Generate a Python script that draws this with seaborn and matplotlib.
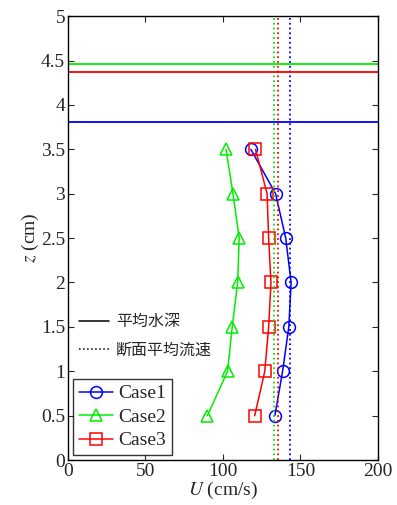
import numpy as np
import pandas as pd
import matplotlib
matplotlib.use('Agg')
import matplotlib.pyplot as plt
from matplotlib.lines import Line2D
import seaborn as sns

# 測定高さ (cm)
z = [0.5, 1.0, 1.5, 2.0, 2.5, 3.0, 3.5]
# 流速 (cm/s)
u_case1 = [133.5, 138.5, 142.5, 144, 140.5, 134, 118]
u_case2 = [90, 103, 106, 109.5, 110.5, 106.5, 102]
u_case3 = [120.5, 127, 129.5, 131, 129.5, 128.5, 121]
cases = ['Case1', 'Case2', 'Case3']
colors = ['#0000ff', '#00ee00', '#ff0000']
markers = ['o', '^', 's']
# 平均水深 (cm) / 断面平均流速 (cm/s)
mean_depth = [3.81, 4.46, 4.37]
mean_velocity = [143, 133, 135.7]

sns.set_style('ticks')
plt.rcParams['font.family'] = ['Liberation Serif', 'Noto Sans CJK JP']
plt.rcParams['mathtext.fontset'] = 'stix'
plt.rcParams['xtick.direction'] = 'in'
plt.rcParams['ytick.direction'] = 'in'

fig = plt.figure(figsize=(3.97, 5.05), dpi=100)
ax = fig.add_axes([0.171, 0.089, 0.781, 0.879])

for name, u, c, m in zip(cases, [u_case1, u_case2, u_case3], colors, markers):
    df = pd.DataFrame({'U': u, 'z': z})
    sns.lineplot(data=df, x='U', y='z', ax=ax, sort=False, estimator=None,
                 color=c, marker=m, markersize=9 if m == '^' else 8.5,
                 markerfacecolor='none', markeredgecolor=c,
                 markeredgewidth=1.1, linewidth=1.1, label=name)

for d, v, c in zip(mean_depth, mean_velocity, colors):
    ax.axhline(d, color=c, linewidth=1.3)
    ax.axvline(v, color=c, linewidth=1.3, linestyle=':')

ax.set_xlim(0, 200)
ax.set_ylim(0, 5)
ax.set_xticks([0, 50, 100, 150, 200])
ax.set_yticks(np.arange(0, 5.01, 0.5))
ax.set_yticklabels(['0', '0.5', '1', '1.5', '2', '2.5', '3', '3.5', '4', '4.5', '5'])
ax.tick_params(top=True, right=True, labelsize=14, length=4, width=0.8, pad=2)
for s in ax.spines.values():
    s.set_linewidth(1.0)
    s.set_color('black')
ax.set_xlabel('$U$ (cm/s)', fontsize=14, labelpad=0)
ax.set_ylabel('$z$ (cm)', fontsize=14, labelpad=0)

leg = ax.legend(loc='lower left', fontsize=14, frameon=True, fancybox=False,
                edgecolor='black', borderpad=0.3, handlelength=1.75,
                handletextpad=0.3, labelspacing=0.3, borderaxespad=0.25)
leg.get_frame().set_linewidth(1.0)
ax.add_artist(leg)

style_handles = [Line2D([], [], color='black', linewidth=1.1),
                 Line2D([], [], color='black', linewidth=1.1, linestyle=':')]
leg2 = ax.legend(style_handles, ['平均水深', '断面平均流速'],
                 loc='upper left', bbox_to_anchor=(-0.012, 0.363), frameon=False,
                 prop={'family': 'Noto Sans CJK JP', 'size': 11.5},
                 handlelength=1.9, handletextpad=0.45, labelspacing=0.7)

fig.savefig('out.png', dpi=100)
